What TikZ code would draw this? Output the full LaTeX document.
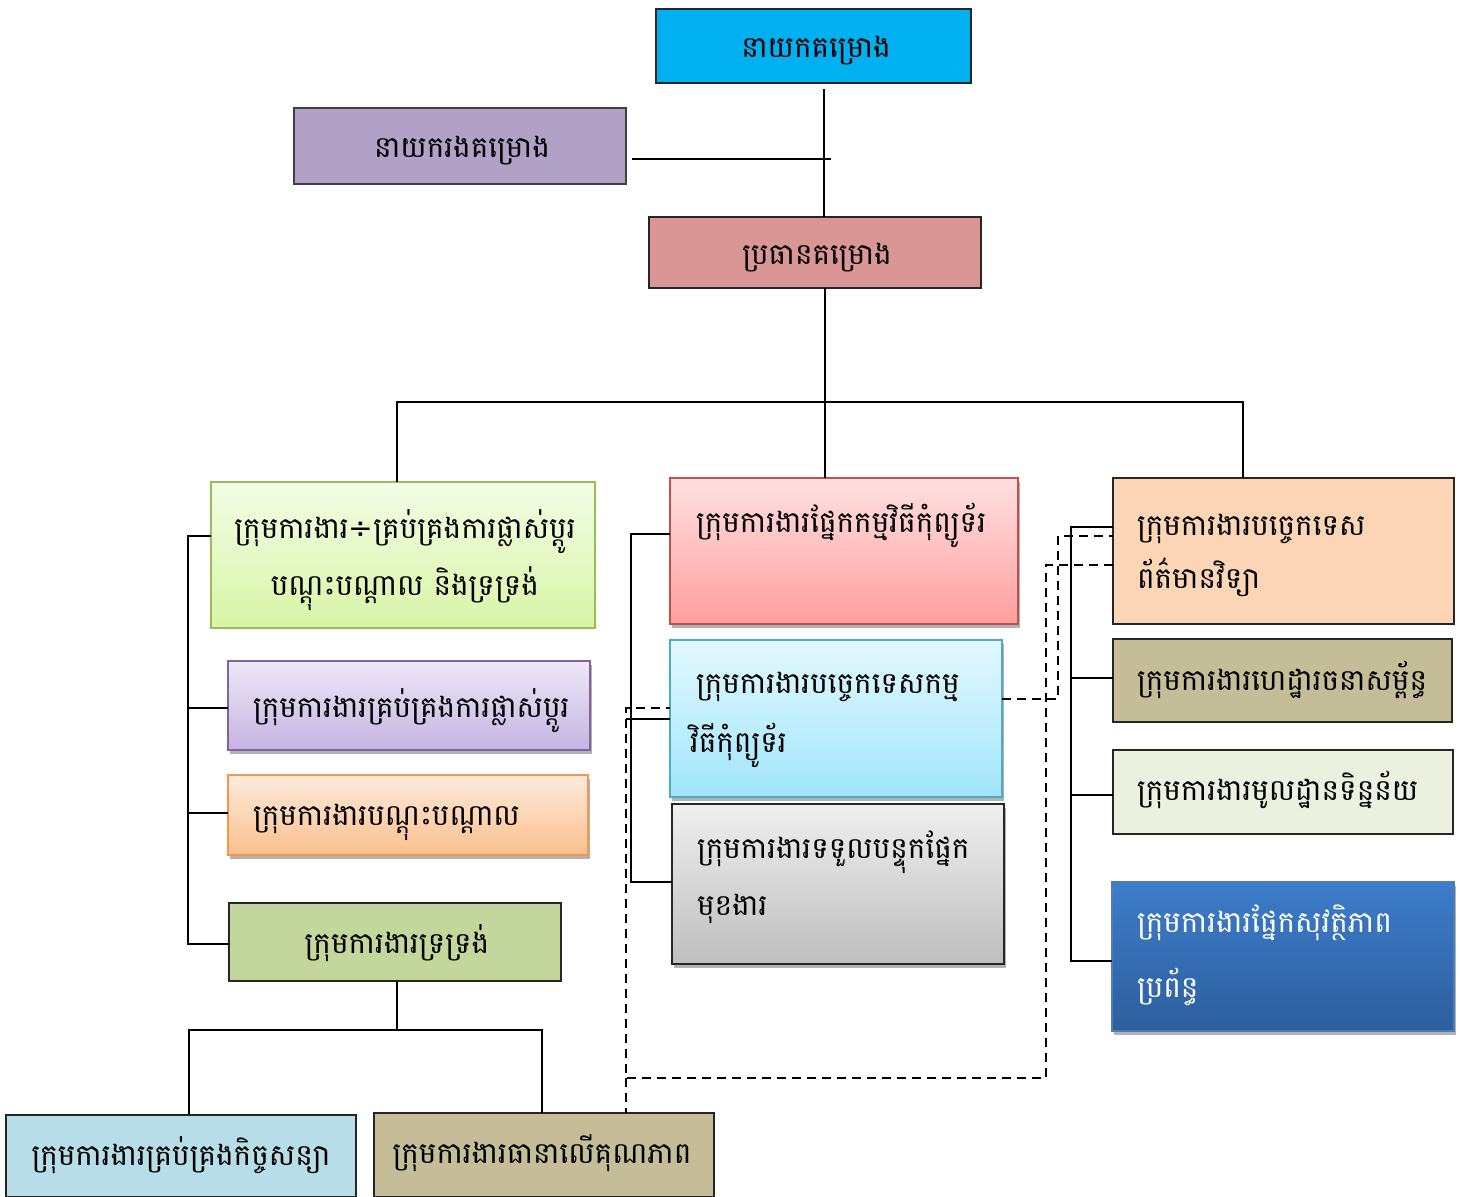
\documentclass[tikz,border=0pt]{standalone}
\usepackage{fontspec}
\newfontfamily\kh[Script=Khmer]{Battambang}
\newfontfamily\dv{DejaVu Sans}
\usetikzlibrary{shadows}
\definecolor{ctop}{HTML}{00B0F0}
\definecolor{cvice}{HTML}{B2A1C7}
\definecolor{cchief}{HTML}{D99694}
\definecolor{cgreen}{HTML}{C3D69B}
\definecolor{cblue}{HTML}{B7DDE8}
\definecolor{ckhaki}{HTML}{C4BD97}
\definecolor{cpeach}{HTML}{FBD5B5}
\definecolor{cpale}{HTML}{EBF1DE}
\begin{document}
\begin{tikzpicture}[x=1pt,y=-1pt,
  box/.style={draw=black!85, line width=1.9pt, anchor=north west, inner sep=0pt, outer sep=0pt},
  shad/.style={drop shadow={shadow xshift=2pt, shadow yshift=-4pt, opacity=0.3, fill=black}},
  txt/.style={font=\kh\fontsize{29.5}{36}\selectfont, inner sep=0pt, outer sep=0pt},
  conn/.style={line width=2pt, draw=black},
  dsh/.style={line width=2.2pt, draw=black, dash pattern=on 9pt off 6pt}]
\useasboundingbox (0,0) rectangle (1460,1197);
% boxes
\node[box, fill=ctop, minimum width=315, minimum height=74] (top) at (656,9) {};
\node[box, draw=black!75, fill=cvice, minimum width=332, minimum height=76] (vice) at (294,108) {};
\node[box, fill=cchief, minimum width=332, minimum height=71] (chief) at (649,217) {};
\node[box, draw={rgb,255:red,155;green,187;blue,89}, top color={rgb,255:red,243;green,253;blue,230}, bottom color={rgb,255:red,215;green,245;blue,166}, minimum width=384, minimum height=146] (l1) at (211,482) {};
\node[box, shad, draw={rgb,255:red,128;green,100;blue,162}, top color={rgb,255:red,238;green,232;blue,247}, bottom color={rgb,255:red,197;green,179;blue,226}, minimum width=362, minimum height=89] (l2) at (228,661) {};
\node[box, shad, draw={rgb,255:red,247;green,150;blue,70}, top color={rgb,255:red,253;green,235;blue,221}, bottom color={rgb,255:red,251;green,191;blue,140}, minimum width=360, minimum height=80] (l3) at (228,775) {};
\node[box, fill=cgreen, minimum width=332, minimum height=78] (l4) at (229,903) {};
\node[box, fill=cblue, minimum width=350, minimum height=82] (b1) at (6,1115) {};
\node[box, fill=ckhaki, minimum width=340, minimum height=84] (b2) at (374,1113) {};
\node[box, shad, draw={rgb,255:red,192;green,80;blue,77}, top color={rgb,255:red,255;green,225;blue,225}, bottom color={rgb,255:red,255;green,157;blue,157}, minimum width=348, minimum height=146] (m1) at (670,478) {};
\node[box, shad, draw={rgb,255:red,75;green,172;blue,198}, top color={rgb,255:red,227;green,248;blue,255}, bottom color={rgb,255:red,160;green,230;blue,251}, minimum width=332, minimum height=157] (m2) at (670,640) {};
\node[box, shad, top color={rgb,255:red,239;green,239;blue,239}, bottom color={rgb,255:red,190;green,190;blue,190}, minimum width=332, minimum height=160] (m3) at (672,804) {};
\node[box, fill=cpeach, minimum width=341, minimum height=146] (r1) at (1113,478) {};
\node[box, fill=ckhaki, minimum width=339, minimum height=83] (r2) at (1113,639) {};
\node[box, fill=cpale, minimum width=340, minimum height=84] (r3) at (1113,750) {};
\node[box, shad, draw={rgb,255:red,74;green,126;blue,187}, top color={rgb,255:red,61;green,125;blue,202}, bottom color={rgb,255:red,45;green,94;blue,158}, minimum width=342, minimum height=149] (r4) at (1112,882) {};
% texts
\node[txt, anchor=base] (ttop) at (816,57) {នាយកគម្រោង};
\node[txt, anchor=base] (tvice) at (462,157) {នាយករងគម្រោង};
\node[txt, anchor=base] (tchief) at (817,264) {ប្រធានគម្រោង};
\node[txt, anchor=base] (tl1a) at (405,538) {ក្រុមការងារ{\dv ÷}គ្រប់គ្រងការផ្លាស់ប្តូរ};
\node[txt, anchor=base] (tl1b) at (405,595) {បណ្តុះបណ្តាល និងទ្រទ្រង់};
\node[txt, anchor=base west] (tl2) at (253,717) {ក្រុមការងារគ្រប់គ្រងការផ្លាស់ប្តូរ};
\node[txt, anchor=base west] (tl3) at (253,825) {ក្រុមការងារបណ្តុះបណ្តាល};
\node[txt, anchor=base] (tl4) at (397,953) {ក្រុមការងារទ្រទ្រង់};
\node[txt, anchor=base] (tb1) at (181,1165) {ក្រុមការងារគ្រប់គ្រងកិច្ចសន្យា};
\node[txt, anchor=base] (tb2) at (542,1163) {ក្រុមការងារធានាលើគុណភាព};
\node[txt, anchor=base west] (tm1) at (696,532) {ក្រុមការងារផ្នែកកម្មវិធីកុំព្យូទ័រ};
\node[txt, anchor=base west] (tm2a) at (696,693) {ក្រុមការងារបច្ចេកទេសកម្ម};
\node[txt, anchor=base west] (tm2b) at (690,752) {វិធីកុំព្យូទ័រ};
\node[txt, anchor=base west] (tm3a) at (697,858) {ក្រុមការងារទទួលបន្ទុកផ្នែក};
\node[txt, anchor=base west] (tm3b) at (697,915) {មុខងារ};
\node[txt, anchor=base west] (tr1a) at (1137,535) {ក្រុមការងារបច្ចេកទេស};
\node[txt, anchor=base west] (tr1b) at (1137,588) {ព័ត៌មានវិទ្យា};
\node[txt, anchor=base west] (tr2) at (1137,690) {ក្រុមការងារហេដ្ឋារចនាសម្ព័ន្ធ};
\node[txt, anchor=base west] (tr3) at (1137,800) {ក្រុមការងារមូលដ្ឋានទិន្នន័យ};
\node[txt, anchor=base west, text=white] (tr4a) at (1137,932) {ក្រុមការងារផ្នែកសុវត្ថិភាព};
\node[txt, anchor=base west, text=white] (tr4b) at (1137,997) {ប្រព័ន្ធ};
% solid connectors
\draw[conn] ([xshift=10pt, yshift=-6pt]top.south) -- ([xshift=10pt]top.south |- chief.north);
\draw[conn] ([shift={(6,13)}]vice.east) -- ([shift={(6,13)}]vice.east -| chief.north) -- ++(10,0);
\coordinate (hub) at (826,402);
\draw[conn] ([xshift=10pt]chief.south) -- ([xshift=10pt]chief.south |- m1.north);
\draw[conn] ([xshift=-6pt]l1.north) |- (hub) -| ([xshift=-41pt]r1.north);
\coordinate (lb) at (188,536);
\draw[conn] (l1.west |- lb) -- (lb) |- ([shift={(0,2)}]l4.west);
\draw[conn] ([shift={(0,2)}]l2.west) -- ([shift={(0,2)}]l2.west -| lb);
\draw[conn] ([shift={(0,-2)}]l3.west) -- ([shift={(0,-2)}]l3.west -| lb);
\coordinate (jn) at (397,1030);
\draw[conn] (l4.south -| jn) -- (jn);
\draw[conn] ([xshift=8pt]b1.north) |- (jn) -| ([xshift=-2pt]b2.north);
\coordinate (mb) at (631,534);
\draw[conn] (m1.west |- mb) -- (mb) |- ([shift={(0,-2)}]m3.west);
\draw[conn] (m2.west) -- ([xshift=-5pt]m2.west -| mb);
\coordinate (rb) at (1071,527);
\draw[conn] (r1.west |- rb) -- (rb) |- ([shift={(0,4)}]r4.west);
\draw[conn] ([shift={(0,-3)}]r2.west) -- ([shift={(0,-3)}]r2.west -| rb);
\draw[conn] ([shift={(0,3)}]r3.west) -- ([shift={(0,3)}]r3.west -| rb);
% dashed connectors
\coordinate (da) at (1058,699);
\coordinate (db) at (1058,536);
\draw[dsh] (m2.east |- da) -- (da) -- (db) -- (db -| r1.west);
\coordinate (dc) at (1046,565);
\coordinate (dd) at (1046,1078);
\coordinate (de) at (626,1078);
\coordinate (df) at (626,708);
\draw[dsh] (r1.west |- dc) -- (dc) -- (dd) -- (de) -- (df) -- (df -| m2.west);
\draw[dsh] (de) -- (de |- b2.north);
\end{tikzpicture}
\end{document}
